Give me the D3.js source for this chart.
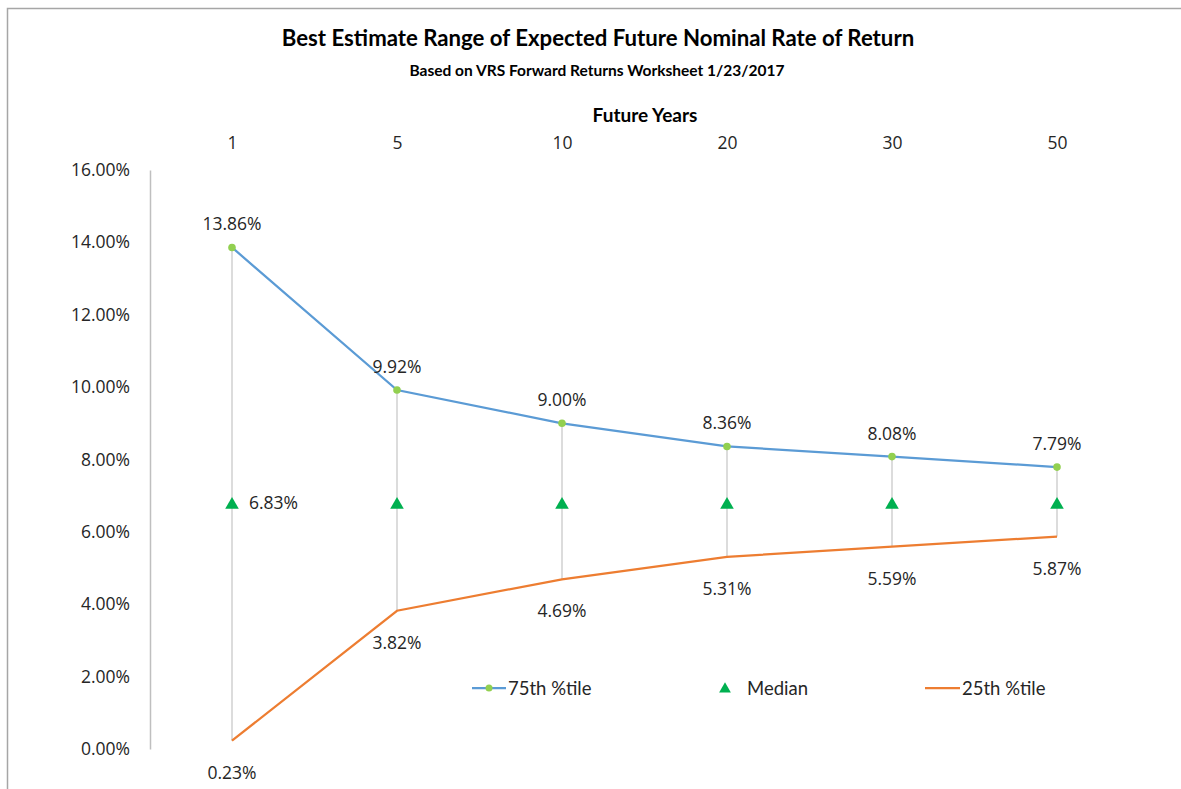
<!DOCTYPE html>
<html><head><meta charset="utf-8">
<script src="https://cdn.jsdelivr.net/npm/d3@7"></script>
<style>body{margin:0;background:#fff;}svg{display:block;}</style>
</head><body>
<svg id="c" width="1181" height="789"></svg>
<script>
const years = ["1","5","10","20","30","50"];
const p75 = [13.86, 9.92, 9.00, 8.36, 8.08, 7.79];
const median = [6.83, 6.83, 6.83, 6.83, 6.83, 6.83];
const p25 = [0.23, 3.82, 4.69, 5.31, 5.59, 5.87];
const yTicks = [0, 2, 4, 6, 8, 10, 12, 14, 16];

const svg = d3.select("#c");
const numFont = "'Open Sans', 'DejaVu Sans', sans-serif";
const titleFont = "Lato, 'Open Sans', sans-serif";
const numSize = 17.5;

// outer border
svg.append("path").attr("d","M7.5,789 V8.5 H1181").attr("fill","none").attr("stroke","#a6a6a6").attr("stroke-width",1.5);

const x = d3.scalePoint().domain(years).range([232, 1057]);
const y = d3.scaleLinear().domain([0, 16]).range([749, 170]);

// titles
svg.append("text").attr("x",598).attr("y",46).attr("text-anchor","middle")
  .attr("font-family",titleFont).attr("font-weight","bold").attr("font-size",22.2).attr("fill","#000")
  .text("Best Estimate Range of Expected Future Nominal Rate of Return");
svg.append("text").attr("x",597).attr("y",76).attr("text-anchor","middle")
  .attr("font-family",titleFont).attr("font-weight","bold").attr("font-size",15.5).attr("fill","#000")
  .text("Based on VRS Forward Returns Worksheet 1/23/2017");
svg.append("text").attr("x",645).attr("y",122).attr("text-anchor","middle")
  .attr("font-family",titleFont).attr("font-weight","bold").attr("font-size",19).attr("fill","#000")
  .text("Future Years");

// y axis
const yAxis = svg.append("g").attr("transform","translate(150,0)")
  .call(d3.axisLeft(y).tickValues(yTicks).tickSize(0).tickPadding(20).tickFormat(d => d.toFixed(2) + "%"));
yAxis.select(".domain").attr("stroke","#bfbfbf").attr("stroke-width",1.5);
yAxis.selectAll("text").attr("font-family",numFont).attr("font-size",numSize).attr("fill","#262626");

// x axis at top (labels only)
const xAxis = svg.append("g").attr("transform","translate(0,149)")
  .call(d3.axisTop(x).tickSize(0).tickPadding(0));
xAxis.select(".domain").remove();
xAxis.selectAll("text").attr("font-family",numFont).attr("font-size",numSize).attr("fill","#262626");

// drop lines
svg.append("g").selectAll("line").data(years).join("line")
  .attr("x1", d => x(d)).attr("x2", d => x(d))
  .attr("y1", (d,i) => y(p75[i])).attr("y2", (d,i) => y(p25[i]))
  .attr("stroke","#d0d0d0").attr("stroke-width",1.5);

const line = d3.line().x((d,i) => x(years[i])).y(d => y(d));
svg.append("path").datum(p75).attr("d", line).attr("fill","none").attr("stroke","#5b9bd5").attr("stroke-width",2.25);
svg.append("path").datum(p25).attr("d", line).attr("fill","none").attr("stroke","#ed7d31").attr("stroke-width",2.25);

svg.append("g").selectAll("circle").data(p75).join("circle")
  .attr("cx",(d,i) => x(years[i])).attr("cy", d => y(d)).attr("r",3.8).attr("fill","#92d050");

const tri = d3.symbol().type(d3.symbolTriangle).size(80);
svg.append("g").selectAll("path").data(median).join("path")
  .attr("transform",(d,i) => `translate(${x(years[i])},${y(d) + 3})`).attr("d", tri).attr("fill","#00b050");

// data labels
svg.append("g").selectAll("text").data(p75).join("text")
  .attr("x",(d,i) => x(years[i])).attr("y", d => y(d) - 17).attr("text-anchor","middle")
  .attr("font-family",numFont).attr("font-size",numSize).attr("fill","#262626")
  .text(d => d.toFixed(2) + "%");
svg.append("g").selectAll("text").data(p25).join("text")
  .attr("x",(d,i) => x(years[i])).attr("y", d => y(d) + 38).attr("text-anchor","middle")
  .attr("font-family",numFont).attr("font-size",numSize).attr("fill","#262626")
  .text(d => d.toFixed(2) + "%");
svg.append("text").attr("x", x(years[0]) + 17).attr("y", y(median[0]) + 7)
  .attr("font-family",numFont).attr("font-size",numSize).attr("fill","#262626")
  .text(median[0].toFixed(2) + "%");

// legend
const ly = 688;
const lg = svg.append("g").attr("font-family",titleFont).attr("font-size",18.5).attr("fill","#262626");
lg.append("line").attr("x1",472).attr("x2",506).attr("y1",ly).attr("y2",ly).attr("stroke","#5b9bd5").attr("stroke-width",2.25);
lg.append("circle").attr("cx",489).attr("cy",ly).attr("r",3.5).attr("fill","#92d050");
lg.append("text").attr("x",508).attr("y",ly+6.5).text("75th %tile");
lg.append("path").attr("transform",`translate(725,${ly+1})`).attr("d", d3.symbol().type(d3.symbolTriangle).size(60)).attr("fill","#00b050");
lg.append("text").attr("x",747).attr("y",ly+6.5).text("Median");
lg.append("line").attr("x1",925).attr("x2",960).attr("y1",ly).attr("y2",ly).attr("stroke","#ed7d31").attr("stroke-width",2.25);
lg.append("text").attr("x",962).attr("y",ly+6.5).text("25th %tile");
</script>
</body></html>
